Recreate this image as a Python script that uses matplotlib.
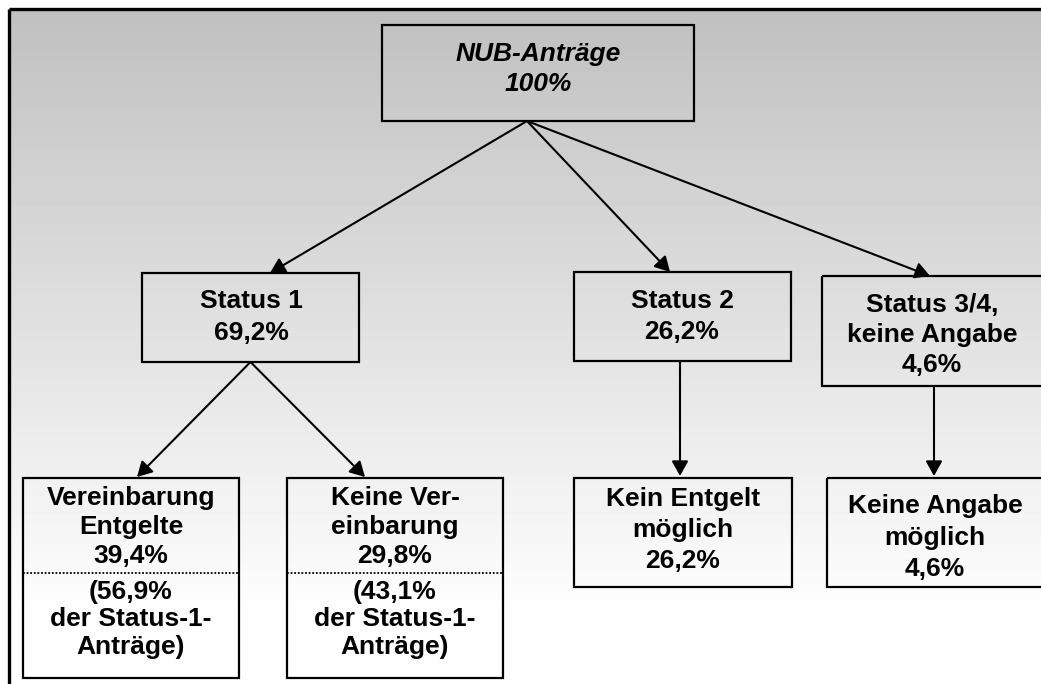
import numpy as np
import matplotlib
matplotlib.use('Agg')
import matplotlib.pyplot as plt
from matplotlib.patches import Rectangle, FancyArrowPatch

plt.rcParams['font.family'] = ['Liberation Sans', 'DejaVu Sans']

# data
top_label = 'NUB-Anträge'
top_value = 100
status_labels = [['Status 1'], ['Status 2'], ['Status 3/4,', 'keine Angabe']]
status_values = [69.2, 26.2, 4.6]
leaf_labels = [['Vereinbarung', 'Entgelte'], ['Keine Ver-', 'einbarung'],
               ['Kein Entgelt', 'möglich'], ['Keine Angabe', 'möglich']]
leaf_values = [39.4, 29.8, 26.2, 4.6]
leaf_share = [56.9, 43.1, None, None]   # share of status-1 requests
leaf_parent = [0, 0, 1, 2]


def pct(v):
    if v == int(v):
        return f'{int(v)}%'
    return f'{v:.1f}'.replace('.', ',') + '%'


# layout in pixel coordinates (x0, y0, x1, y1)
top_box = (382, 25, 694, 121)
status_boxes = [(142, 273, 359, 362), (574, 272, 791, 361), (822, 276, 1043, 386)]
leaf_boxes = [(23, 478, 239, 678), (287, 478, 503, 678), (574, 478, 792, 587), (827, 478, 1043, 587)]
status_heads = [(270, 273), (670, 272), (930, 276)]
status_text = [(251, 308, 32), (682, 308, 31), (932, 312, 30)]
leaf_heads = [(137, 477), (365, 477), (680, 476), (934, 476)]
leaf_text = [(131, 505, 29), (395, 505, 29), (683, 506, 31), (935, 513, 31.5)]
top_start = (527, 121)

W, H = 1041, 684
fig = plt.figure(figsize=(W / 100, H / 100), dpi=100)
ax = fig.add_axes([0, 0, 1, 1])
ax.set_xlim(0, W)
ax.set_ylim(H, 0)
ax.axis('off')

# gradient background
grad = np.clip(192 + 63 * (np.arange(10, H) - 10) / 610, 192, 255) / 255
img = np.repeat(grad[:, None], 2, axis=1)
ax.imshow(img, cmap='gray', vmin=0, vmax=1, extent=[10, W, H, 10], aspect='auto', zorder=0)

# frame
ax.plot([8.5, W], [9, 9], color='black', lw=2.4, solid_capstyle='butt', zorder=1)
ax.plot([9, 9], [8.5, H], color='black', lw=2.4, solid_capstyle='butt', zorder=1)

fs = 19


def box(b):
    x0, y0, x1, y1 = b
    ax.add_patch(Rectangle((x0, y0), x1 - x0, y1 - y0, fill=False,
                           edgecolor='black', lw=1.6, zorder=3))


def arrow(p, q):
    a = FancyArrowPatch(p, q, arrowstyle='-|>,head_length=0.45,head_width=0.25',
                        mutation_scale=20, color='black', lw=1.5,
                        shrinkA=0, shrinkB=0, zorder=4)
    ax.add_patch(a)


def lines(cx, y, step, rows, **kw):
    for k, r in enumerate(rows):
        ax.text(cx, y + k * step, r, ha='center', va='baseline', fontsize=fs,
                fontweight='bold', zorder=5, **kw)


# top node
box(top_box)
lines(538, 61, 30, [top_label, pct(top_value)], style='italic')

# status nodes
for i, b in enumerate(status_boxes):
    box(b)
    arrow(top_start, status_heads[i])
    cx, y, step = status_text[i]
    lines(cx, y, step, status_labels[i] + [pct(status_values[i])])

# leaf nodes
for i, b in enumerate(leaf_boxes):
    box(b)
    pb = status_boxes[leaf_parent[i]]
    hx, hy = leaf_heads[i]
    if leaf_parent[i] == 0:
        start = ((pb[0] + pb[2]) / 2, pb[3])
    else:
        start = (hx, pb[3])
    arrow(start, (hx, hy))
    cx, y, step = leaf_text[i]
    lines(cx, y, step, leaf_labels[i] + [pct(leaf_values[i])])
    if leaf_share[i] is not None:
        ax.plot([b[0], b[2]], [573, 573], color='black', lw=1.3,
                linestyle=(0, (1, 1)), zorder=4)
        lines(cx, 599, 27.5, [f'({pct(leaf_share[i])}', 'der Status-1-', 'Anträge)'])

fig.savefig('out.png', dpi=100)
